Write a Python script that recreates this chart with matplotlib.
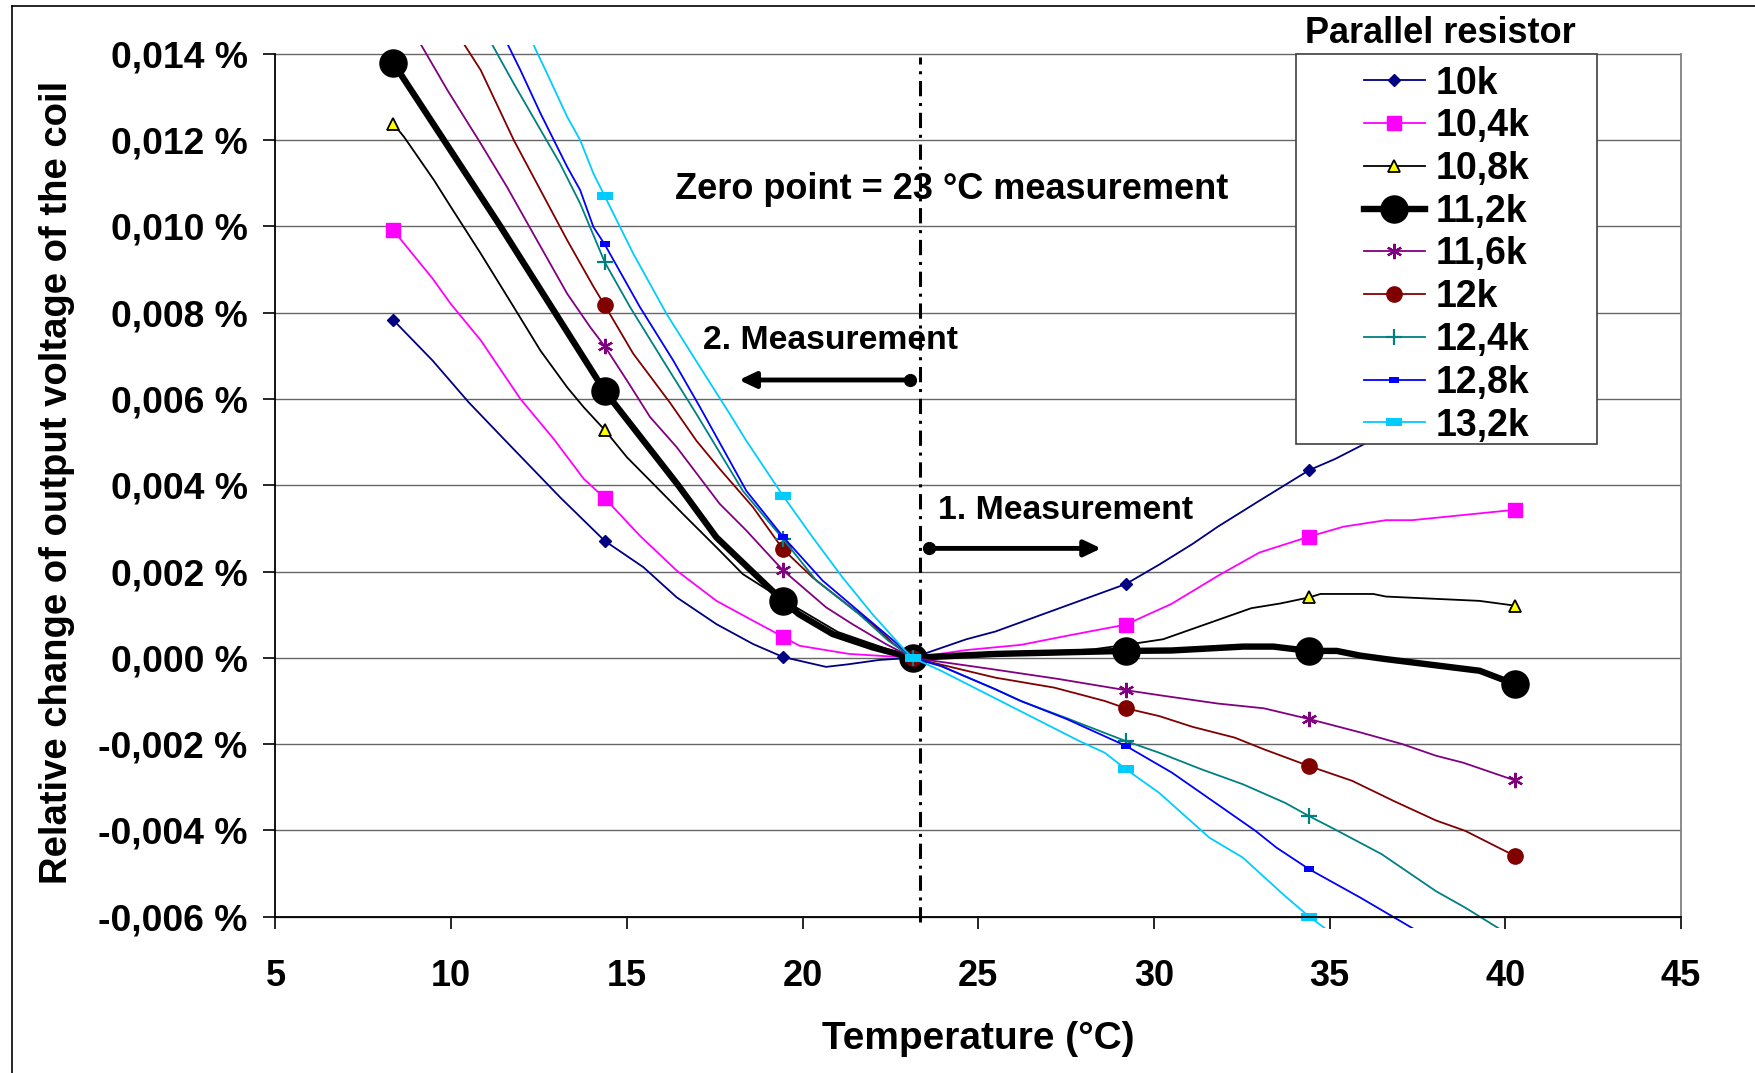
import matplotlib
matplotlib.use('Agg')
import matplotlib.pyplot as plt
from matplotlib.lines import Line2D
from matplotlib.patches import Rectangle
from matplotlib.ticker import FuncFormatter

plt.rcParams['font.family'] = ['Liberation Sans', 'DejaVu Sans']
plt.rcParams['font.weight'] = 'bold'

# temperatures of the measurement points (markers)
meas_t = [8.35, 14.37, 19.44, 23.13, 29.2, 34.42, 40.27]

# relative change in %
t_10k = [8.35, 9.47, 10.5, 11.5, 13.1, 14.37, 15.47, 16.42, 17.55, 18.59, 19.44, 20.67, 21.3, 22.18,
         23.13, 24.66, 25.49, 29.2, 30.15, 31.1, 31.82, 33.0, 34.42, 35.16, 36.0, 37.5, 40.27]
v_10k = [0.00783, 0.00689, 0.00592, 0.00507, 0.00372, 0.00271, 0.0021, 0.0014, 0.00078, 0.00032, 0.00002,
         -0.00021, -0.00015, -0.00005, 0.0, 0.00043, 0.00061, 0.00171, 0.00216, 0.00264, 0.00304, 0.00364,
         0.00435, 0.00461, 0.00496, 0.0056, 0.0068]

t_10k4 = [8.35, 9.47, 9.99, 10.84, 11.97, 12.92, 13.77, 14.37, 15.37, 16.42, 17.55, 18.59, 19.44, 19.91,
          21.33, 23.13, 24.66, 26.21, 27.52, 29.2, 30.5, 31.82, 33.0, 34.42, 35.4, 36.6, 37.35, 40.27]
v_10k4 = [0.00991, 0.00879, 0.0082, 0.00736, 0.006, 0.00507, 0.00415, 0.0037, 0.00283, 0.00202, 0.00132,
          0.00086, 0.00049, 0.00028, 0.00009, 0.0, 0.00018, 0.0003, 0.00051, 0.00077, 0.00125, 0.0019,
          0.00244, 0.00281, 0.00304, 0.00319, 0.00319, 0.00343]

t_10k8 = [8.35, 8.66, 9.51, 9.99, 10.84, 11.78, 12.54, 13.3, 13.77, 14.37, 15.0, 15.85, 16.6, 17.55, 18.3,
          19.44, 21.0, 23.13, 26.2, 28.3, 29.2, 30.26, 31.34, 32.77, 33.6, 34.42, 34.74, 36.24, 36.6, 39.26,
          40.27]
v_10k8 = [0.01238, 0.01207, 0.01107, 0.01045, 0.00937, 0.00813, 0.00712, 0.00627, 0.00581, 0.00528, 0.00465,
          0.00395, 0.00333, 0.00256, 0.00194, 0.00135, 0.0006, 0.0, 0.0001, 0.0002, 0.0003, 0.00043, 0.00074,
          0.00115, 0.00126, 0.0014, 0.00148, 0.00148, 0.00142, 0.00132, 0.00121]

t_11k2 = [8.35, 11.4, 14.37, 16.46, 17.55, 18.5, 19.44, 19.9, 20.86, 22.0, 23.13, 25.49, 29.2, 30.5, 32.54,
          33.4, 34.42, 35.2, 35.88, 36.6, 39.27, 40.27]
v_11k2 = [0.01379, 0.0100, 0.00618, 0.0040, 0.00279, 0.00205, 0.00132, 0.00101, 0.00055, 0.00024, 0.0,
          0.00009, 0.00016, 0.00017, 0.00026, 0.00026, 0.00016, 0.00016, 0.00005, -0.00003, -0.0003, -0.00061]

t_11k6 = [8.35, 9.09, 9.89, 10.84, 11.59, 12.44, 13.3, 13.96, 14.37, 15.0, 15.66, 16.42, 17.64, 18.4, 19.44,
          19.9, 20.67, 21.42, 22.37, 23.13, 25.37, 27.28, 29.2, 30.27, 31.82, 33.13, 34.42, 35.88, 37.07,
          38.03, 38.8, 40.27]
v_11k6 = [0.0152, 0.01428, 0.01316, 0.01192, 0.01091, 0.00968, 0.00844, 0.00766, 0.00722, 0.00643, 0.00558,
          0.00488, 0.00357, 0.00295, 0.00203, 0.00171, 0.00117, 0.00078, 0.00032, 0.0, -0.00026, -0.00049,
          -0.00075, -0.00088, -0.00106, -0.00117, -0.00142, -0.00173, -0.002, -0.00227, -0.00243, -0.00284]

t_12k = [8.35, 10.32, 10.84, 11.78, 12.54, 13.3, 14.05, 14.37, 15.18, 16.22, 16.98, 17.64, 18.59, 19.44,
         20.29, 21.14, 21.99, 22.6, 23.13, 25.49, 27.16, 28.6, 29.2, 30.15, 31.1, 32.3, 33.13, 34.42, 35.64,
         36.83, 38.03, 38.86, 40.27]
v_12k = [0.0171, 0.01428, 0.01362, 0.012, 0.01084, 0.00968, 0.0086, 0.00817, 0.00705, 0.00592, 0.00503,
         0.00438, 0.00349, 0.00252, 0.00186, 0.00132, 0.00078, 0.00032, 0.0, -0.00046, -0.00069, -0.001,
         -0.00117, -0.00135, -0.0016, -0.00185, -0.00212, -0.00251, -0.00285, -0.00332, -0.00377, -0.00401,
         -0.00459]

t_12k4 = [8.35, 11.12, 11.78, 12.44, 13.1, 13.67, 14.37, 15.09, 16.03, 16.98, 18.3, 19.44, 20.39, 21.61,
          22.45, 23.13, 23.94, 25.49, 26.21, 27.52, 29.2, 30.15, 31.34, 32.53, 33.73, 34.42, 35.16, 36.48,
          38.03, 38.86, 40.27]
v_12k4 = [0.0187, 0.01428, 0.01331, 0.01238, 0.01145, 0.01053, 0.00917, 0.00813, 0.00689, 0.00565, 0.00387,
          0.00276, 0.00179, 0.00101, 0.00039, 0.0, -0.00019, -0.00073, -0.001, -0.0014, -0.00193, -0.0022,
          -0.00258, -0.00293, -0.00336, -0.00367, -0.00398, -0.00455, -0.00541, -0.00579, -0.0065]

t_12k8 = [8.35, 11.57, 11.97, 12.54, 13.3, 13.67, 14.05, 14.37, 15.37, 16.32, 17.08, 18.4, 19.44, 20.57,
          21.8, 22.6, 23.13, 23.94, 25.49, 26.21, 27.52, 29.2, 30.51, 31.34, 32.89, 33.49, 34.42, 35.88,
          37.43, 40.27]
v_12k8 = [0.0196, 0.01428, 0.01362, 0.01262, 0.01138, 0.01084, 0.00998, 0.00958, 0.00813, 0.00689, 0.00581,
          0.00387, 0.00281, 0.00179, 0.00094, 0.00039, 0.0, -0.00019, -0.00073, -0.001, -0.00142, -0.00204,
          -0.00266, -0.00313, -0.00401, -0.0044, -0.0049, -0.00556, -0.0063, -0.0076]

t_13k2 = [8.35, 12.3, 12.73, 13.3, 13.67, 14.05, 14.37, 15.18, 16.13, 17.08, 17.93, 18.4, 19.44, 20.29,
          21.14, 21.99, 22.84, 23.13, 23.94, 26.09, 27.88, 28.6, 29.2, 30.15, 31.58, 32.53, 33.73, 34.42,
          34.92, 40.27]
v_13k2 = [0.0213, 0.01428, 0.01354, 0.01254, 0.012, 0.01122, 0.0107, 0.00937, 0.00797, 0.00674, 0.00565,
          0.00503, 0.00376, 0.00279, 0.00186, 0.00101, 0.00024, 0.0, -0.0003, -0.00119, -0.00193, -0.0022,
          -0.00258, -0.00313, -0.00417, -0.00463, -0.00552, -0.006, -0.0063, -0.0083]

labels = ['10k', '10,4k', '10,8k', '11,2k', '11,6k', '12k', '12,4k', '12,8k', '13,2k']
x_ticks = [5, 10, 15, 20, 25, 30, 35, 40, 45]
y_ticks = [-0.006, -0.004, -0.002, 0.0, 0.002, 0.004, 0.006, 0.008, 0.010, 0.012, 0.014]

series_t = [t_10k, t_10k4, t_10k8, t_11k2, t_11k6, t_12k, t_12k4, t_12k8, t_13k2]
series_v = [v_10k, v_10k4, v_10k8, v_11k2, v_11k6, v_12k, v_12k4, v_12k8, v_13k2]

dash_small = [(-1, -0.65), (1, -0.65), (1, 0.65), (-1, 0.65), (-1, -0.65)]
dash_wide = [(-1, -0.44), (1, -0.44), (1, 0.44), (-1, 0.44), (-1, -0.44)]
styles = [
    dict(color='#000080', lw=1.3, marker='D', ms=6),
    dict(color='#FF00FF', lw=1.3, marker='s', ms=10.5),
    dict(color='black', lw=1.3, marker='^', ms=9, mfc='#FFFF00', mec='black', mew=1.3),
    dict(color='black', lw=4.6, marker='o', ms=19.5),
    dict(color='#800080', lw=1.3, marker=(6, 2, 0), ms=11, mew=1.6),
    dict(color='#800000', lw=1.3, marker='o', ms=11),
    dict(color='#008080', lw=1.3, marker='+', ms=11, mew=1.6),
    dict(color='#0000FF', lw=1.3, marker=dash_small, ms=7.7, mew=0),
    dict(color='#00CCFF', lw=1.3, marker=dash_wide, ms=11.5, mew=0),
]

fig = plt.figure(figsize=(17.55, 10.73), dpi=100)
ax = fig.add_axes([0.15698, 0.1356, 0.80085, 0.82237])

handles = []
for t, v, lab, st in zip(series_t, series_v, labels, styles):
    mk = [x in meas_t for x in t]
    h, = ax.plot(t, v, label=lab, markevery=mk, solid_joinstyle='round', **st)
    handles.append(h)

ax.set_xlim(5, 45)
ax.set_ylim(-0.00625, 0.0142)
ax.set_xticks(x_ticks)
ax.set_yticks(y_ticks)

def pct(v, pos):
    if abs(v) < 1e-12:
        v = 0.0
    return f"{v:.3f} %".replace('.', ',')

ax.yaxis.set_major_formatter(FuncFormatter(pct))
ax.grid(axis='y', color='#666666', lw=1.0)
ax.set_axisbelow(True)

ax.spines['top'].set_visible(False)
ax.spines['left'].set_bounds(-0.006, 0.014)
ax.spines['right'].set_bounds(-0.006, 0.014)
ax.spines['right'].set_color('#808080')
ax.spines['bottom'].set_position(('data', -0.006))
for s in ['left', 'bottom', 'right']:
    ax.spines[s].set_linewidth(1.3)
ax.tick_params(axis='both', direction='out', length=8.6, width=1.2, labelsize=26)
ax.tick_params(axis='y', pad=11.5, labelsize=26.8)
ax.tick_params(axis='x', pad=22)

# annotations
zero_t = 23.33
ax.plot([zero_t, zero_t], [-0.00613, 0.01393], color='black', lw=2.2,
        linestyle=(0, (5, 2.2, 1, 2.2)), zorder=1)

ax.text(16.36, 0.010626, 'Zero point = 23 °C measurement', fontsize=26, ha='left', va='baseline')
ax.text(17.175, 0.007158, '2. Measurement', fontsize=24.3, ha='left', va='baseline')
ax.text(23.85, 0.003225, '1. Measurement', fontsize=24.3, ha='left', va='baseline')

arrow_kw = dict(arrowstyle='-|>,head_length=0.4,head_width=0.19', mutation_scale=25, lw=3.5,
                color='black', shrinkA=0, shrinkB=0)
ax.annotate('', xy=(18.19, 0.006439), xytext=(23.06, 0.006439), arrowprops=arrow_kw)
ax.plot([23.06], [0.006439], 'o', color='black', ms=8.5)
ax.annotate('', xy=(28.5, 0.002536), xytext=(23.61, 0.002536), arrowprops=arrow_kw)
ax.plot([23.61], [0.002536], 'o', color='black', ms=8.5)

# axis titles
fig.text(0.5574, 0.02237, 'Temperature (°C)', fontsize=28, ha='center', va='baseline')
fig.text(0.0326, 0.5503, 'Relative change of output voltage of the coil', fontsize=27.5,
         rotation=90, ha='center', va='center')

# legend box with title above it
W, H = 1755.0, 1073.0
box = Rectangle((1296 / W, 1 - 444.4 / H), 301 / W, 390 / H, transform=fig.transFigure,
                facecolor='white', edgecolor='#404040', lw=1.2, zorder=5)
fig.add_artist(box)
leg = fig.legend(handles, labels, loc='upper left', bbox_to_anchor=(1363.5 / W, 1 - 65.5 / H),
                 frameon=False, borderpad=0, borderaxespad=0, handlelength=1.63, handletextpad=0.3,
                 labelspacing=0.18, numpoints=1, prop=dict(size=27, weight='bold'))
leg.set_zorder(6)
fig.text(1440 / W, 1 - 43 / H, 'Parallel resistor', fontsize=26, ha='center', va='baseline')

# outer chart frame
fig.add_artist(Line2D([11.5 / W, 11.5 / W], [0, 1 - 6.2 / H], transform=fig.transFigure, color='black', lw=1.2))
fig.add_artist(Line2D([11.5 / W, 1], [1 - 6.2 / H, 1 - 6.2 / H], transform=fig.transFigure, color='black', lw=1.2))

fig.savefig('out.png', dpi=100)
